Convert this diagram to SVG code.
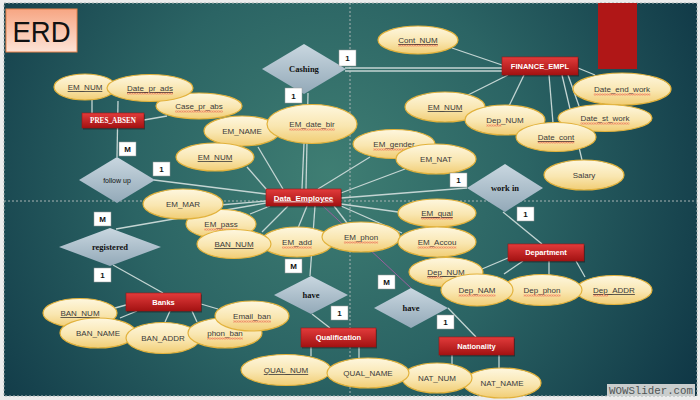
<svg xmlns="http://www.w3.org/2000/svg" width="700" height="400" viewBox="0 0 700 400">
<defs>
<radialGradient id="bg" cx="330" cy="175" r="440" gradientUnits="userSpaceOnUse">
<stop offset="0" stop-color="#3f7e73"/><stop offset="0.45" stop-color="#2b6464"/><stop offset="1" stop-color="#0d3343"/>
</radialGradient>
<linearGradient id="eg" x1="0" y1="0" x2="0" y2="1">
<stop offset="0" stop-color="#fef7df"/><stop offset="0.55" stop-color="#f9e6b0"/><stop offset="1" stop-color="#f1cd74"/>
</linearGradient>
<linearGradient id="rg" x1="0" y1="0" x2="0" y2="1">
<stop offset="0" stop-color="#e23b3b"/><stop offset="1" stop-color="#a31212"/>
</linearGradient>
<linearGradient id="dg" x1="0" y1="0" x2="0" y2="1">
<stop offset="0" stop-color="#c9d7e0"/><stop offset="1" stop-color="#93a9b8"/>
</linearGradient>
<linearGradient id="og" x1="0" y1="0" x2="0" y2="1">
<stop offset="0" stop-color="#f7a683"/><stop offset="1" stop-color="#fde3d6"/>
</linearGradient>
<pattern id="sq" width="2.5" height="2" patternUnits="userSpaceOnUse">
<path d="M0 1.5 L1.25 0.4 L2.5 1.5" stroke="#e52222" stroke-width="0.6" fill="none"/>
</pattern>
<style>
.attr ellipse{fill:url(#eg);stroke:#e2b23c;stroke-width:1.2}
.attr text{font-family:"Liberation Sans",Arial,sans-serif;font-size:8px;fill:#3a3a3a;text-anchor:middle}
.u{text-decoration:underline}
.sq{fill:url(#sq)}
.ent .sh{fill:#000;opacity:.35}
.ent .b{fill:url(#rg);stroke:#9a1414;stroke-width:.6}
.ent text{fill:#fff;font-family:"Liberation Sans",Arial,sans-serif;font-weight:bold;font-size:7.5px;text-anchor:middle}
.rel polygon{fill:url(#dg)}
.rel text{font-family:"Liberation Serif","Times New Roman",serif;font-weight:bold;font-size:8.5px;fill:#111;text-anchor:middle}
.card rect{fill:#fff;stroke:#9a9a9a;stroke-width:.5}
.card text{font-family:"Liberation Sans",Arial,sans-serif;font-weight:bold;font-size:8px;fill:#111;text-anchor:middle}
#connectors line{stroke:#c4d5d3;stroke-width:1.3}
.guide{stroke:#a9b3b3;stroke-width:1;stroke-dasharray:2 2;fill:none}
</style>
</defs>
<rect x="0" y="0" width="700" height="400" fill="#ececec"/>
<rect x="4" y="3" width="693" height="393" fill="url(#bg)"/>
<rect x="4" y="3" width="693" height="393" class="guide"/>
<line x1="4" y1="201" x2="697" y2="201" class="guide"/>
<line x1="350" y1="3" x2="350" y2="396" class="guide"/>
<rect x="598" y="3" width="39" height="66" fill="#b01717"/>
<g id="title">
<rect x="6" y="9" width="71" height="43" fill="url(#og)" stroke="#e8824a" stroke-width="1"/>
<text x="41.5" y="42" font-family="Liberation Sans,Arial,sans-serif" font-size="30" fill="#111" text-anchor="middle" textLength="58" lengthAdjust="spacingAndGlyphs">ERD</text>
</g>
<g id="connectors">
<line x1="267" y1="190" x2="247" y2="167"/>
<line x1="283" y1="189" x2="258" y2="147"/>
<line x1="302" y1="189" x2="304" y2="143"/>
<line x1="306" y1="189" x2="308" y2="93"/>
<line x1="318" y1="189" x2="370" y2="157"/>
<line x1="341" y1="193" x2="405" y2="169"/>
<line x1="341" y1="198" x2="467" y2="188"/>
<line x1="341" y1="204" x2="398" y2="212"/>
<line x1="341" y1="206" x2="402" y2="233"/>
<line x1="334" y1="206" x2="347" y2="223"/>
<line x1="307" y1="206" x2="298" y2="228"/>
<line x1="288" y1="206" x2="262" y2="232"/>
<line x1="270" y1="206" x2="250" y2="214"/>
<line x1="266" y1="201" x2="220" y2="205"/>
<line x1="266" y1="203" x2="116" y2="229"/>
<line x1="266" y1="194" x2="154" y2="180"/>
<line x1="315" y1="206" x2="310" y2="276"/>
<line x1="323" y1="206" x2="411" y2="288" style="stroke:#9b5f9e;stroke-width:1"/>
<line x1="92" y1="100" x2="92" y2="113"/>
<line x1="118" y1="101" x2="117" y2="157"/>
<line x1="144" y1="120" x2="167" y2="116"/>
<line x1="452" y1="48" x2="502" y2="65"/>
<line x1="345" y1="68" x2="502" y2="68"/>
<line x1="345" y1="71" x2="502" y2="71"/>
<line x1="508" y1="75" x2="468" y2="95"/>
<line x1="524" y1="75" x2="509" y2="106"/>
<line x1="549" y1="75" x2="553" y2="123"/>
<line x1="562" y1="75" x2="582" y2="160"/>
<line x1="568" y1="75" x2="579" y2="106"/>
<line x1="578" y1="68" x2="595" y2="75"/>
<line x1="503" y1="212" x2="542" y2="244"/>
<line x1="482" y1="269" x2="508" y2="258"/>
<line x1="523" y1="261" x2="504" y2="274"/>
<line x1="549" y1="261" x2="549" y2="275"/>
<line x1="576" y1="261" x2="585" y2="277"/>
<line x1="113" y1="265" x2="163" y2="293"/>
<line x1="115" y1="308" x2="126" y2="305"/>
<line x1="120" y1="318" x2="137" y2="311"/>
<line x1="165" y1="322" x2="170" y2="311"/>
<line x1="192" y1="311" x2="197" y2="322"/>
<line x1="201" y1="304" x2="218" y2="309"/>
<line x1="312" y1="314" x2="330" y2="328"/>
<line x1="311" y1="347" x2="311" y2="356"/>
<line x1="359" y1="347" x2="359" y2="359"/>
<line x1="448" y1="308" x2="476" y2="337"/>
<line x1="452" y1="355" x2="452" y2="364"/>
<line x1="499" y1="355" x2="499" y2="369"/>
</g>
<g id="relationships" class="rel">
<g id="rel-cashing"><polygon points="304,44 346,69 304,94 262,69"/><text x="304" y="72">Cashing</text></g>
<g id="rel-followup"><polygon points="117,157 155,180 117,203 79,180"/><text x="117" y="182.5" style="font-family:'Liberation Sans',Arial,sans-serif;font-weight:normal;font-size:7px">follow up</text></g>
<g id="rel-workin"><polygon points="505,164 543,188 505,212 467,188"/><text x="505" y="191">work in</text></g>
<g id="rel-registered"><polygon points="110,228 161,247 110,266 59,247"/><text x="110" y="250">registered</text></g>
<g id="rel-have1"><polygon points="311,276 348,295 311,314 274,295"/><text x="311" y="298">have</text></g>
<g id="rel-have2"><polygon points="411,288 448,308 411,328 374,308"/><text x="411" y="311">have</text></g>
</g>
<g id="entities" class="ent">
<g id="ent-pres"><rect class="sh" x="83" y="114.5" width="62" height="15"/><rect class="b" x="82" y="113" width="62" height="15"/><text x="113" y="123" style="font-family:'Liberation Serif','Times New Roman',serif;font-size:7.2px">PRES_ABSEN</text></g>
<g id="ent-finance"><rect class="sh" x="503" y="58.5" width="76" height="18"/><rect class="b" x="502" y="57" width="76" height="18"/><text x="540" y="68.5">FINANCE_EMPL</text></g>
<g id="ent-data"><rect class="sh" x="267" y="190.5" width="75" height="17"/><rect class="b" x="266" y="189" width="75" height="17"/><text x="303.5" y="200.5" class="u" style="font-size:8px">Data_Employee</text></g>
<g id="ent-dept"><rect class="sh" x="509" y="245.5" width="76" height="17"/><rect class="b" x="508" y="244" width="76" height="17"/><text x="546" y="255">Department</text></g>
<g id="ent-banks"><rect class="sh" x="127" y="294.5" width="75" height="18"/><rect class="b" x="126" y="293" width="75" height="18"/><text x="163.5" y="304.5">Banks</text></g>
<g id="ent-qual"><rect class="sh" x="302" y="329.5" width="75" height="19"/><rect class="b" x="301" y="328" width="75" height="19"/><text x="338.5" y="340">Qualification</text></g>
<g id="ent-nat"><rect class="sh" x="440" y="338.5" width="75" height="18"/><rect class="b" x="439" y="337" width="75" height="18"/><text x="476.5" y="349">Nationality</text></g>
</g>
<g id="attributes" class="attr">
<g id="a-emnum1"><ellipse cx="85" cy="87" rx="31" ry="13"/><text x="85" y="90" class="u">EM_NUM</text></g>
<g id="a-casepr"><ellipse cx="199" cy="106" rx="43" ry="13"/><text x="199" y="109">Case_pr_abs</text><rect class="sq" x="175.2" y="110.5" width="47.6" height="2"/></g>
<g id="a-datepr"><ellipse cx="150" cy="88" rx="43" ry="13.5"/><text x="150" y="91" class="u">Date_pr_ads</text><rect class="sq" x="127" y="92.5" width="46" height="2"/></g>
<g id="a-emname"><ellipse cx="242" cy="131" rx="38" ry="15"/><text x="242" y="134">EM_NAME</text></g>
<g id="a-emdate"><ellipse cx="312" cy="124" rx="45" ry="19.5"/><text x="312" y="127">EM_date_bir</text><rect class="sq" x="289.3" y="128.5" width="45.4" height="2"/></g>
<g id="a-emnum2"><ellipse cx="215" cy="157" rx="39" ry="14"/><text x="215" y="160" class="u">EM_NUM</text></g>
<g id="a-contnum"><ellipse cx="418" cy="40" rx="40" ry="14"/><text x="418" y="43" class="u">Cont_NUM</text><rect class="sq" x="398.2" y="44.5" width="39.6" height="2"/></g>
<g id="a-emnum3"><ellipse cx="445" cy="107" rx="40" ry="15"/><text x="445" y="110" class="u">EM_NUM</text></g>
<g id="a-depnum1"><ellipse cx="505" cy="120" rx="40" ry="15"/><text x="505" y="123">Dep_NUM</text><rect class="sq" x="486.3" y="124.5" width="15" height="2"/></g>
<g id="a-dateend"><ellipse cx="622" cy="89" rx="49" ry="16"/><text x="622" y="92">Date_end_work</text><rect class="sq" x="593.8" y="93.5" width="56.5" height="2"/></g>
<g id="a-datest"><ellipse cx="605" cy="118" rx="47" ry="13.5"/><text x="605" y="121">Date_st_work</text><rect class="sq" x="580.5" y="122.5" width="48.9" height="2"/></g>
<g id="a-datecont"><ellipse cx="556" cy="137" rx="40" ry="14.5"/><text x="556" y="140" class="u">Date_cont</text><rect class="sq" x="537.8" y="141.5" width="36.5" height="2"/></g>
<g id="a-salary"><ellipse cx="584" cy="175" rx="40" ry="15"/><text x="584" y="178">Salary</text></g>
<g id="a-emgender"><ellipse cx="394" cy="144" rx="41" ry="14.5"/><text x="394" y="147">EM_gender</text><rect class="sq" x="373.3" y="148.5" width="41.4" height="2"/></g>
<g id="a-emnat"><ellipse cx="436" cy="159" rx="40" ry="15"/><text x="436" y="162">EM_NAT</text></g>
<g id="a-emadd"><ellipse cx="297" cy="242" rx="36" ry="15"/><text x="297" y="245">EM_add</text><rect class="sq" x="282.1" y="246.5" width="29.8" height="2"/></g>
<g id="a-empass"><ellipse cx="221" cy="224" rx="35" ry="14.5"/><text x="221" y="227">EM_pass</text><rect class="sq" x="204.3" y="228.5" width="33.3" height="2"/></g>
<g id="a-emmar"><ellipse cx="183" cy="204" rx="40" ry="15"/><text x="183" y="207">EM_MAR</text></g>
<g id="a-bannum1"><ellipse cx="234" cy="244" rx="37" ry="14.5"/><text x="234" y="247" class="u">BAN_NUM</text></g>
<g id="a-emphon"><ellipse cx="361" cy="237" rx="39" ry="15"/><text x="361" y="240">EM_phon</text><rect class="sq" x="343.9" y="241.5" width="34.2" height="2"/></g>
<g id="a-emqual"><ellipse cx="437" cy="213" rx="39" ry="14"/><text x="437" y="216" class="u">EM_qual</text><rect class="sq" x="421.2" y="217.5" width="31.6" height="2"/></g>
<g id="a-emaccou"><ellipse cx="437" cy="242" rx="39" ry="15"/><text x="437" y="245">EM_Accou</text><rect class="sq" x="417.7" y="246.5" width="38.7" height="2"/></g>
<g id="a-depnum2"><ellipse cx="446" cy="272" rx="37" ry="14.5"/><text x="446" y="275" class="u">Dep_NUM</text><rect class="sq" x="427.3" y="276.5" width="15" height="2"/></g>
<g id="a-depaddr"><ellipse cx="614" cy="290" rx="38" ry="14.5"/><text x="614" y="293" class="u">Dep_ADDR</text><rect class="sq" x="593.1" y="294.5" width="15" height="2"/></g>
<g id="a-depphon"><ellipse cx="542" cy="290" rx="40" ry="15.5"/><text x="542" y="293">Dep_phon</text><rect class="sq" x="523.6" y="294.5" width="36.9" height="2"/></g>
<g id="a-depnam"><ellipse cx="477" cy="290" rx="36" ry="16"/><text x="477" y="293">Dep_NAM</text><rect class="sq" x="458.6" y="294.5" width="36.9" height="2"/></g>
<g id="a-natname"><ellipse cx="502" cy="383" rx="39" ry="15"/><text x="502" y="386">NAT_NAME</text></g>
<g id="a-natnum"><ellipse cx="437" cy="378" rx="35" ry="15"/><text x="437" y="381">NAT_NUM</text></g>
<g id="a-bannum2"><ellipse cx="80" cy="313" rx="37" ry="14.5"/><text x="80" y="316" class="u">BAN_NUM</text></g>
<g id="a-banname"><ellipse cx="98" cy="333" rx="38" ry="15"/><text x="98" y="336">BAN_NAME</text></g>
<g id="a-banaddr"><ellipse cx="163" cy="338" rx="37" ry="15.5"/><text x="163" y="341">BAN_ADDR</text></g>
<g id="a-phonban"><ellipse cx="225" cy="333" rx="37" ry="15"/><text x="225" y="336">phon_ban</text><rect class="sq" x="207.2" y="337.5" width="35.6" height="2"/></g>
<g id="a-emailban"><ellipse cx="252" cy="316" rx="37" ry="15"/><text x="252" y="319">Email_ban</text><rect class="sq" x="233.1" y="320.5" width="37.8" height="2"/></g>
<g id="a-qualnum"><ellipse cx="286" cy="370" rx="45" ry="15.5"/><text x="286" y="373" class="u">QUAL_NUM</text></g>
<g id="a-qualname"><ellipse cx="368" cy="373" rx="41" ry="15"/><text x="368" y="376">QUAL_NAME</text></g>
</g>
<g id="cardinalities" class="card">
<g><rect x="339" y="50" width="17" height="16"/><text x="347.5" y="61">1</text></g>
<g><rect x="285" y="88" width="17" height="15"/><text x="293.5" y="98.5">1</text></g>
<g><rect x="119" y="142" width="17" height="14"/><text x="127.5" y="152">M</text></g>
<g><rect x="153" y="162" width="17" height="14"/><text x="161.5" y="172">1</text></g>
<g><rect x="450" y="173" width="17" height="14"/><text x="458.5" y="183">1</text></g>
<g><rect x="517" y="207" width="17" height="14"/><text x="525.5" y="217">1</text></g>
<g><rect x="94" y="212" width="17" height="14"/><text x="102.5" y="222">M</text></g>
<g><rect x="94" y="268" width="17" height="14"/><text x="102.5" y="278">1</text></g>
<g><rect x="285" y="259" width="17" height="14"/><text x="293.5" y="269">M</text></g>
<g><rect x="331" y="306" width="17" height="14"/><text x="339.5" y="316">1</text></g>
<g><rect x="378" y="275" width="17" height="14"/><text x="386.5" y="285">M</text></g>
<g><rect x="437" y="315" width="17" height="14"/><text x="445.5" y="325">1</text></g>
</g>
<g id="watermark">
<rect x="607" y="384" width="88" height="12" fill="#c9cdcd"/>
<text x="651" y="394" font-family="Liberation Mono,Courier New,monospace" font-size="11" fill="#505555" text-anchor="middle" textLength="84" lengthAdjust="spacingAndGlyphs">WOWSlider.com</text>
</g>
</svg>
